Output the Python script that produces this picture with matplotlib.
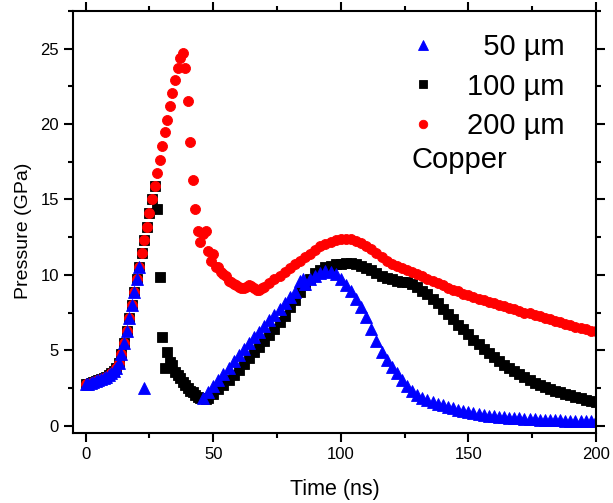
import matplotlib
matplotlib.use('Agg')
import matplotlib.pyplot as plt
from matplotlib.ticker import MultipleLocator

plt.rcParams['font.family'] = ['Liberation Sans', 'DejaVu Sans']

# shared early rise (ns, GPa)
rise_t = list(range(0, 23))
rise_p = [2.75, 2.78, 2.82, 2.87, 2.93, 3.0, 3.07, 3.15, 3.24, 3.35, 3.47, 3.6,
          3.8, 4.15, 4.75, 5.5, 6.3, 7.15, 8.0, 8.85, 9.7, 10.55, 11.45]

# 50 um
t50 = rise_t[:22] + [23] + [46, 48, 50, 52, 54, 56, 58, 60, 62, 64, 66, 68, 70, 72, 74, 76, 78, 80, 82,
                           84, 85, 86, 88, 90, 92, 94, 96, 98, 100, 102, 104, 106, 108, 110, 112, 114,
                           116, 118, 120, 122, 124, 126, 128, 130, 132, 134, 136, 138, 140, 142, 144,
                           146, 148, 150, 152, 154, 156, 158, 160, 162, 164, 166, 168, 170, 172, 174,
                           176, 178, 180, 182, 184, 186, 188, 190, 192, 194, 196, 198, 200]
p50 = rise_p[:22] + [2.47] + [1.8, 2.25, 2.65, 3.05, 3.45, 3.85, 4.25, 4.65, 5.05, 5.45, 5.85, 6.2, 6.6,
                              7.0, 7.35, 7.75, 8.1, 8.5, 8.85, 9.6, 9.7, 9.4, 9.7, 9.95, 10.15, 10.25,
                              10.2, 10.05, 9.7, 9.35, 8.9, 8.4, 7.85, 7.2, 6.4, 5.6, 4.9, 4.35, 3.9,
                              3.5, 3.0, 2.6, 2.3, 2.05, 1.85, 1.7, 1.55, 1.45, 1.35, 1.25, 1.15, 1.05,
                              0.95, 0.88, 0.82, 0.76, 0.7, 0.66, 0.62, 0.59, 0.56, 0.53, 0.5, 0.48,
                              0.46, 0.44, 0.42, 0.4, 0.38, 0.365, 0.35, 0.335, 0.32, 0.31, 0.3, 0.29,
                              0.28, 0.275, 0.27]

# 100 um
t100 = rise_t + list(range(23, 48)) + list(range(48, 201, 2))
p100 = rise_p + [12.3, 13.2, 14.1, 15.0, 15.9, 14.4, 9.85, 5.9, 3.8, 4.85, 4.2, 4.0, 3.55, 3.35, 3.15,
                 2.9, 2.7, 2.5, 2.3, 2.2, 2.0, 1.92, 1.85, 1.8, 1.77] + \
       [1.85, 2.1, 2.4, 2.7, 3.0, 3.35, 3.7, 4.1, 4.5, 4.85, 5.2, 5.6, 6.0, 6.4, 6.85, 7.3, 7.85, 8.35,
        8.85, 9.3, 9.75, 10.1, 10.35, 10.5, 10.6, 10.7, 10.75, 10.8, 10.8, 10.75, 10.6, 10.45, 10.3,
        10.1, 9.95, 9.8, 9.7, 9.6, 9.55, 9.5, 9.4, 9.2, 8.95, 8.7, 8.4, 8.1, 7.75, 7.4, 7.05, 6.7, 6.4,
        6.05, 5.7, 5.4, 5.1, 4.8, 4.55, 4.3, 4.05, 3.82, 3.6, 3.4, 3.2, 3.0, 2.85, 2.68, 2.54, 2.42,
        2.3, 2.2, 2.1, 2.0, 1.9, 1.8, 1.72, 1.63, 1.55]

# 200 um
t200 = rise_t + list(range(23, 70)) + list(range(70, 201, 2))
p200 = rise_p + [12.3, 13.2, 14.1, 15.0, 15.9, 16.75, 17.65, 18.55, 19.45, 20.3, 21.2, 22.05, 22.9,
                 23.75, 24.4, 24.7, 23.75, 21.5, 18.8, 16.3, 14.4, 12.9, 12.15, 12.7, 12.9, 11.55,
                 10.9, 11.35, 10.55, 10.5, 10.2, 10.05, 9.9, 9.6, 9.5, 9.4, 9.3, 9.2, 9.15, 9.1, 9.2,
                 9.3, 9.25, 9.1, 9.0, 9.0, 9.1] + \
       [9.2, 9.45, 9.7, 9.95, 10.2, 10.45, 10.7, 10.95, 11.15, 11.4, 11.65, 11.9, 12.05, 12.2, 12.3,
        12.4, 12.4, 12.35, 12.25, 12.1, 11.9, 11.7, 11.45, 11.2, 10.95, 10.75, 10.6, 10.45, 10.3,
        10.2, 10.05, 9.9, 9.75, 9.6, 9.45, 9.3, 9.15, 9.0, 8.9, 8.75, 8.65, 8.5, 8.4, 8.3, 8.2, 8.1,
        8.0, 7.9, 7.8, 7.7, 7.6, 7.5, 7.45, 7.35, 7.25, 7.15, 7.05, 6.95, 6.85, 6.75, 6.65, 6.55, 6.5,
        6.4, 6.3, 6.25]

fig = plt.figure(figsize=(6.13, 5.03), dpi=100)
ax = fig.add_axes([0.119, 0.139, 0.853, 0.839])

h100, = ax.plot(t100, p100, ls='none', marker='s', ms=7, color='black', mew=0.6, label='100 µm')
h200, = ax.plot(t200, p200, ls='none', marker='o', ms=7.2, color='#ff0000', mew=0.6, label='200 µm')
h50, = ax.plot(t50, p50, ls='none', marker='^', ms=8, color='#0000ff', mew=0.6, label='  50 µm')

ax.set_xlim(-5, 200)
ax.set_ylim(-0.5, 27.5)
ax.xaxis.set_major_locator(MultipleLocator(50))
ax.xaxis.set_minor_locator(MultipleLocator(25))
ax.yaxis.set_major_locator(MultipleLocator(5))
ax.yaxis.set_minor_locator(MultipleLocator(2.5))

for s in ax.spines.values():
    s.set_linewidth(1.5)
ax.tick_params(which='both', direction='out', width=1.5, labelsize=12,
               top=True, right=True, labeltop=False, labelright=False)
ax.tick_params(which='major', length=6.5)
ax.tick_params(which='minor', length=3.5)

ax.set_xlabel('Time (ns)', fontsize=15.5, labelpad=12)
ax.set_ylabel('Pressure (GPa)', fontsize=14)
ax.yaxis.set_label_coords(-0.079, 0.48)

leg = ax.legend(handles=[h50, h100, h200], loc='upper right', bbox_to_anchor=(0.963, 0.976),
                frameon=False, fontsize=21, handlelength=1.0, handletextpad=1.0,
                labelspacing=0.4, borderaxespad=0.0, markerscale=0.85)
ax.text(0.648, 0.648, 'Copper', transform=ax.transAxes, fontsize=21, ha='left', va='center')

fig.savefig('out.png', dpi=100)
